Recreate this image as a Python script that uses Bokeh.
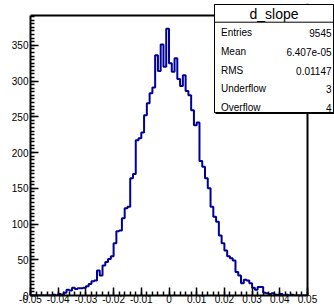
from bokeh.plotting import figure
from bokeh.models import Range1d, FixedTicker, BoxAnnotation, Label, Span
from bokeh.embed import file_html
from bokeh.resources import INLINE

# ---------------- data ----------------
x_lo = -0.05
x_hi = 0.05
counts = [
    0, 0, 0, 0, 0, 0, 0, 0, 1, 0,
    2, 1, 4, 8, 7, 11, 9, 10, 10, 11,
    13, 16, 20, 21, 35, 28, 42, 47, 51, 55,
    73, 90, 91, 108, 122, 124, 164, 170, 217, 220,
    228, 252, 269, 283, 291, 336, 314, 351, 320, 373,
    325, 313, 332, 303, 293, 308, 286, 280, 259, 238,
    242, 188, 180, 164, 150, 124, 110, 103, 84, 73,
    63, 55, 52, 49, 33, 28, 17, 22, 21, 17,
    11, 8, 12, 12, 4, 3, 2, 3, 1, 1,
    2, 0, 1, 0, 1, 0, 0, 0, 0, 0,
]
x_tick_values = [-0.05, -0.04, -0.03, -0.02, -0.01, 0.0, 0.01, 0.02, 0.03, 0.04, 0.05]
x_tick_labels = ["-0.05", "-0.04", "-0.03", "-0.02", "-0.01", "0", "0.01", "0.02", "0.03", "0.04", "0.05"]
x_minor_step = 0.002
y_tick_values = [0, 50, 100, 150, 200, 250, 300, 350]
y_minor_step = 5
hist_name = "d_slope"
stat_names = ["Entries", "Mean", "RMS", "Underflow", "Overflow"]
stat_values = ["9545", "6.407e-05", "0.01147", "3", "4"]

# ---------------- layout (canvas pixels) ----------------
W, H = 334, 306
FR_L, FR_R, FR_T, FR_B = 30, 334, 3, 295          # Bokeh frame (covers stats box too)
VIS_R, VIS_T = 307, 15                             # visible ROOT-style frame edges
FONT = "Liberation Sans"
LINE_COLOR = "#000099"

n = len(counts)
edges = [x_lo + (x_hi - x_lo) * i / n for i in range(n + 1)]
step_y = counts + [counts[-1]]
y_top = max(counts) * 1.05

x_end = x_lo + (x_hi - x_lo) * (FR_R - FR_L) / (VIS_R - FR_L)
y_end = y_top * (FR_B - FR_T) / (FR_B - VIS_T)

p = figure(width=W, height=H, output_backend="svg", toolbar_location=None,
           x_range=Range1d(x_lo, x_end), y_range=Range1d(0, y_end))
p.min_border_left = FR_L
p.min_border_right = W - FR_R
p.min_border_top = FR_T
p.min_border_bottom = H - FR_B
p.grid.visible = False
p.outline_line_color = None
p.background_fill_color = "white"
p.border_fill_color = "white"

p.step(x=edges, y=step_y, mode="after", line_color=LINE_COLOR, line_width=2)

x_minor = [round(x_lo + x_minor_step * i, 6) for i in range(int(round((x_hi - x_lo) / x_minor_step)) + 1)]
y_minor = [y_minor_step * i for i in range(int(y_top // y_minor_step) + 1)]

xa = p.xaxis[0]
xa.ticker = FixedTicker(ticks=x_tick_values, minor_ticks=x_minor)
xa.major_label_overrides = {v: s for v, s in zip(x_tick_values, x_tick_labels)}
xa.bounds = (x_lo, x_hi)
ya = p.yaxis[0]
ya.ticker = FixedTicker(ticks=y_tick_values, minor_ticks=y_minor)
ya.bounds = (0, y_top)

for ax in (xa, ya):
    ax.axis_line_width = 2
    ax.axis_line_color = "black"
    ax.major_tick_line_width = 1.5
    ax.minor_tick_line_width = 1.5
    ax.major_tick_in = 8
    ax.major_tick_out = 0
    ax.minor_tick_in = 4
    ax.minor_tick_out = 0
    ax.major_label_text_font = FONT
    ax.major_label_text_font_size = "10px"
    ax.major_label_text_color = "black"
xa.major_label_standoff = -1
ya.major_label_standoff = 2

# visible frame: top and right edges
p.add_layout(Span(location=y_top, dimension="width", line_color="black", line_width=2))
p.add_layout(Span(location=x_hi, dimension="height", line_color="black", line_width=2))

# ---------------- stats box (screen units, relative to frame bottom-left) ----------------
def sx(cx):
    return cx - FR_L

def sy(cy):
    return FR_B - cy

box_l, box_r, box_t, box_b, head_b = 214, 333, 4, 112, 21.7

shadow = BoxAnnotation(left=sx(box_l + 1), right=sx(box_r + 1), top=sy(box_t + 1), bottom=sy(box_b + 1.5),
                       left_units="screen", right_units="screen", top_units="screen", bottom_units="screen",
                       fill_color="black", fill_alpha=1, line_color=None)
box = BoxAnnotation(left=sx(box_l), right=sx(box_r), top=sy(box_t), bottom=sy(box_b),
                    left_units="screen", right_units="screen", top_units="screen", bottom_units="screen",
                    fill_color="white", fill_alpha=1, line_color="black", line_width=1, line_alpha=1)
head = BoxAnnotation(left=sx(box_l), right=sx(box_r), top=sy(box_t), bottom=sy(head_b),
                     left_units="screen", right_units="screen", top_units="screen", bottom_units="screen",
                     fill_alpha=0, line_color="black", line_width=1, line_alpha=1)
p.add_layout(shadow)
p.add_layout(box)
p.add_layout(head)

p.add_layout(Label(x=sx((box_l + box_r) / 2), y=sy(13), x_units="screen", y_units="screen",
                   text=hist_name, text_align="center", text_baseline="middle",
                   text_font=FONT, text_font_size="14px", text_color="black"))
row_y = [32.3, 51, 70, 88.3, 107]
for name, val, ry in zip(stat_names, stat_values, row_y):
    p.add_layout(Label(x=sx(220.5), y=sy(ry), x_units="screen", y_units="screen",
                       text=name, text_align="left", text_baseline="middle",
                       text_font=FONT, text_font_size="10px", text_color="black"))
    p.add_layout(Label(x=sx(331), y=sy(ry), x_units="screen", y_units="screen",
                       text=val, text_align="right", text_baseline="middle",
                       text_font=FONT, text_font_size="10px", text_color="black"))

open("out.html", "w").write(file_html(p, INLINE))
